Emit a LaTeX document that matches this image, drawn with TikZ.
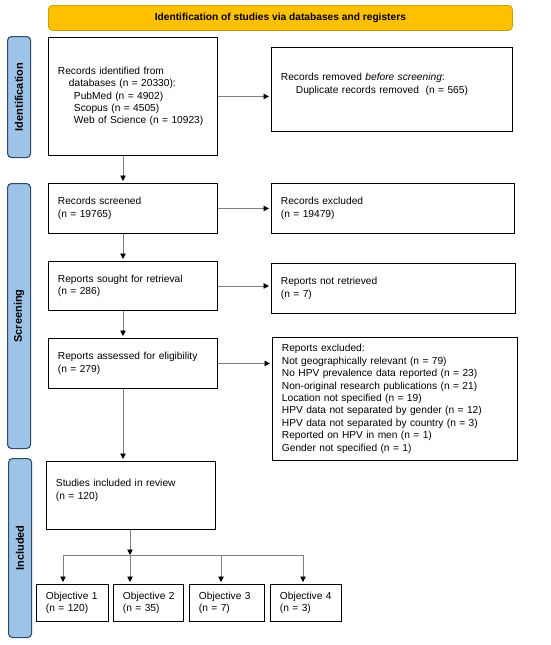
\documentclass[tikz,border=0pt]{standalone}
\usepackage{fontspec}
\setmainfont{Liberation Sans}
\usetikzlibrary{arrows.meta}
\definecolor{hdr}{HTML}{FFC000}
\definecolor{hdrb}{HTML}{C9A000}
\definecolor{side}{HTML}{9DC3E6}
\definecolor{sideb}{HTML}{2F4B6B}
\definecolor{arr}{HTML}{808080}
\begin{document}
\begin{tikzpicture}[x=1pt,y=-1pt,
 box/.style={draw=black, line width=0.9pt, inner xsep=9.5pt, inner ysep=0pt, align=left, anchor=north west, font=\fontsize{10.2}{12.4}\selectfont},
 sidebox/.style={draw=sideb, fill=side, line width=1.1pt, rounded corners=4pt, anchor=north west, inner sep=0pt},
 sidetext/.style={rotate=90, font=\fontsize{11}{13}\selectfont\bfseries},
 hdrbox/.style={draw=hdrb, fill=hdr, line width=0.8pt, rounded corners=4pt, anchor=north west, inner sep=0pt, font=\fontsize{10.2}{12.4}\selectfont\bfseries},
 conn/.style={draw=arr, line width=0.9pt, shorten >=2pt, -{Triangle[color=black,length=5.5pt,width=5.5pt]}},
 plainline/.style={draw=arr, line width=0.9pt}]
\useasboundingbox (0,0) rectangle (550,645);
\fill[white] (0,0) rectangle (550,645);

% header
\node[hdrbox, minimum width=464pt, minimum height=25pt] (hdr) at (48,5) {Identification of studies via databases and registers};

% side labels
\node[sidebox, minimum width=23pt, minimum height=121pt] (s1) at (7,36) {};
\node[sidetext] at (s1.center) {Identification};
\node[sidebox, minimum width=23pt, minimum height=265pt] (s2) at (7,183) {};
\node[sidetext] at (s2.center) {Screening};
\node[sidebox, minimum width=23pt, minimum height=179pt] (s3) at (8,458) {};
\node[sidetext] at (s3.center) {Included};

% boxes
\node[box, minimum width=169pt, minimum height=118pt, text width=150pt] (id) at (48,37)
 {Records identified from\\
 \hspace*{11pt}databases (n = 20330):\\
 \hspace*{16pt}PubMed (n = 4902)\\
 \hspace*{16pt}Scopus (n = 4505)\\
 \hspace*{16pt}Web of Science (n = 10923)};
\node[box, minimum width=241pt, minimum height=84pt, text width=222pt] (rem) at (271,47)
 {Records removed \textit{before screening}:\\
 \hspace*{15pt}Duplicate records removed\ \ (n = 565)\\ \mbox{}};
\node[box, minimum width=169pt, minimum height=50pt, text width=150pt] (scr) at (48,183)
 {Records screened\\(n = 19765)};
\node[box, minimum width=243pt, minimum height=50pt, text width=224pt] (exc) at (271,183)
 {Records excluded\\(n = 19479)};
\node[box, minimum width=169pt, minimum height=49pt, text width=150pt] (sou) at (48,261)
 {Reports sought for retrieval\\(n = 286)};
\node[box, minimum width=244pt, minimum height=50pt, text width=225pt] (nre) at (271,263)
 {Reports not retrieved\\(n = 7)};
\node[box, minimum width=169pt, minimum height=50pt, text width=150pt] (ass) at (48,338)
 {Reports assessed for eligibility\\(n = 279)};
\node[box, minimum width=245pt, minimum height=123pt, text width=226pt] (rex) at (272,337)
 {Reports excluded:\\
 Not geographically relevant (n = 79)\\
 No HPV prevalence data reported (n = 23)\\
 Non-original research publications (n = 21)\\
 Location not specified (n = 19)\\
 HPV data not separated by gender (n = 12)\\
 HPV data not separated by country (n = 3)\\
 Reported on HPV in men (n = 1)\\
 Gender not specified (n = 1)};
\node[box, minimum width=169pt, minimum height=68pt, text width=150pt] (stu) at (46,461)
 {Studies included in review\\(n = 120)\\ \mbox{}};
\node[box, minimum width=72pt, minimum height=37pt, text width=53pt] (o1) at (36,584)
 {\mbox{Objective 1}\\(n = 120)};
\node[box, minimum width=70pt, minimum height=37pt, text width=51pt] (o2) at (113,584)
 {\mbox{Objective 2}\\(n = 35)};
\node[box, minimum width=75pt, minimum height=37pt, text width=56pt] (o3) at (189,584)
 {\mbox{Objective 3}\\(n = 7)};
\node[box, minimum width=71pt, minimum height=37pt, text width=52pt] (o4) at (270,584)
 {\mbox{Objective 4}\\(n = 3)};

% connectors
\coordinate (vx) at (123,0);
\draw[conn] (id.east) -- (id.east -| rem.west);
\draw[conn] (scr.east) -- (scr.east -| exc.west);
\draw[conn] (sou.east) -- (sou.east -| nre.west);
\draw[conn] (ass.east) -- (ass.east -| rex.west);
\draw[conn] (vx |- id.south) -- (vx |- scr.north);
\draw[conn] (vx |- scr.south) -- (vx |- sou.north);
\draw[conn] (vx |- sou.south) -- (vx |- ass.north);
\draw[conn] (vx |- ass.south) -- (vx |- stu.north);

\coordinate (j) at (130,555);
\coordinate (jl) at (63,555);
\coordinate (j3) at (221,555);
\coordinate (jr) at (303,555);
\draw[plainline] (jl) -- (jr);
\draw[conn, shorten >=0pt] (stu.south -| j) -- (j);
\draw[conn] (jl) -- (jl |- o1.north);
\draw[conn] (j) -- (j |- o2.north);
\draw[conn] (j3) -- (j3 |- o3.north);
\draw[conn] (jr) -- (jr |- o4.north);
\end{tikzpicture}
\end{document}
